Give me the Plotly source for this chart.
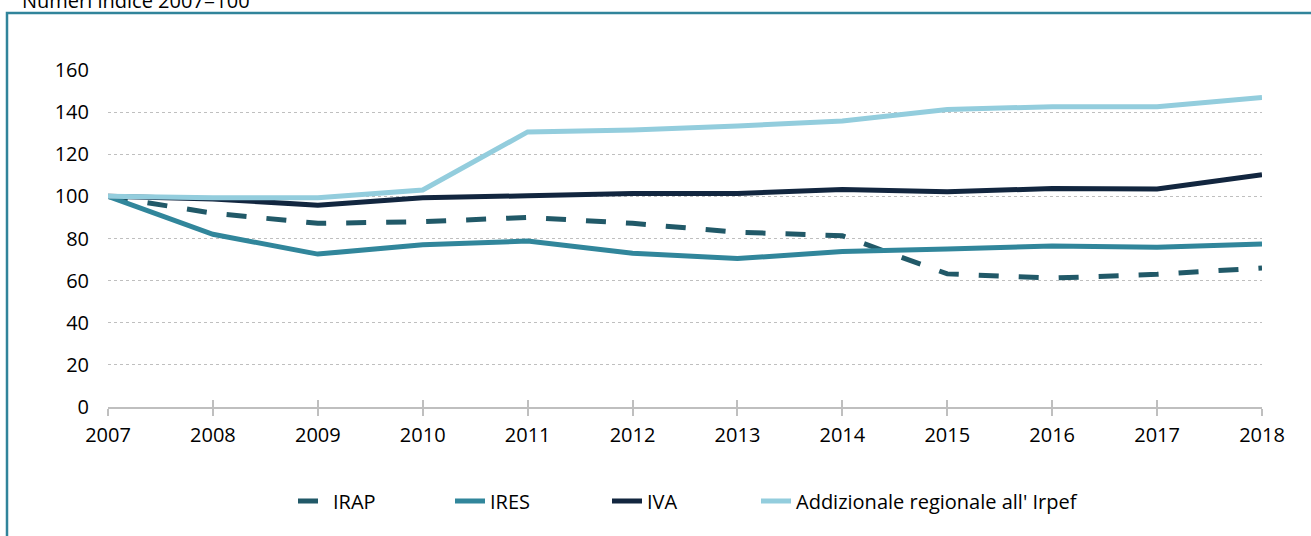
import plotly.graph_objects as go

years = [2007, 2008, 2009, 2010, 2011, 2012, 2013, 2014, 2015, 2016, 2017, 2018]
irap = [100, 92, 87.2, 88, 90, 87.2, 83, 81.3, 63.2, 61.2, 63, 66]
ires = [100, 82, 72.6, 77, 78.8, 73, 70.5, 73.8, 75, 76.4, 75.8, 77.4]
iva = [100, 98.8, 95.8, 99.3, 100.3, 101.4, 101.4, 103.3, 102.2, 103.7, 103.5, 110.3]
addiz = [100, 99.3, 99.4, 103, 130.6, 131.5, 133.4, 135.8, 141.2, 142.6, 142.5, 146.9]
yticks = [0, 20, 40, 60, 80, 100, 120, 140, 160]

FONT = "Open Sans"
FS = 20
W, H = 1311, 536
ml, mr, mt, mb = 108, 49, 70, 129
pw, ph = W - ml - mr, H - mt - mb

def px_x(p):
    return (p - ml) / pw

def px_y(p):
    return (H - mb - p) / ph

fig = go.Figure()
fig.add_trace(go.Scatter(x=years, y=irap, name="IRAP", mode="lines",
                         line=dict(color="#215968", width=5, dash="20px,20px")))
fig.add_trace(go.Scatter(x=years, y=ires, name="IRES", mode="lines",
                         line=dict(color="#31869B", width=5)))
fig.add_trace(go.Scatter(x=years, y=iva, name="IVA", mode="lines",
                         line=dict(color="#12263F", width=5)))
fig.add_trace(go.Scatter(x=years, y=addiz, name="Addizionale regionale all' Irpef", mode="lines",
                         legend="legend2", line=dict(color="#93CDDD", width=5)))
# invisible trace on second x axis for inside ticks
fig.add_trace(go.Scatter(x=years, y=[None]*len(years), xaxis="x2", showlegend=False,
                         hoverinfo="skip"))

fig.update_layout(
    width=W, height=H,
    margin=dict(l=ml, r=mr, t=mt, b=mb),
    paper_bgcolor="white", plot_bgcolor="white",
    font=dict(family=FONT, size=FS, color="#000000"),
    xaxis=dict(range=[2007, 2018], tickmode="array", tickvals=years,
               ticktext=[str(y) for y in years],
               showgrid=False, zeroline=False, showline=True, linecolor="#BFBFBF", linewidth=1.5,
               ticks="outside", ticklen=7, tickcolor="#BFBFBF", tickwidth=1.5,
               ticklabelstandoff=2),
    xaxis2=dict(range=[2007, 2018], overlaying="x", anchor="y", tickmode="array", tickvals=years,
                showticklabels=False, showgrid=False, zeroline=False, showline=False,
                ticks="inside", ticklen=7, tickcolor="#BFBFBF", tickwidth=1.5, side="bottom"),
    yaxis=dict(range=[0, 160], tickmode="array", tickvals=yticks,
               showgrid=True, gridcolor="#BFBFBF", griddash="dot", gridwidth=1,
               zeroline=False, showline=False, ticks="", ticklabelstandoff=18),
    legend=dict(orientation="h", x=px_x(293), xanchor="left", y=px_y(501), yanchor="middle",
                font=dict(family=FONT, size=FS), entrywidth=112, entrywidthmode="pixels",
                bgcolor="rgba(0,0,0,0)"),
    legend2=dict(orientation="h", x=px_x(756), xanchor="left", y=px_y(501), yanchor="middle",
                 font=dict(family=FONT, size=FS), bgcolor="rgba(0,0,0,0)"),
    showlegend=True,
)

fig.add_shape(type="rect", xref="paper", yref="paper",
              x0=px_x(7), x1=px_x(1318), y0=px_y(545), y1=px_y(13),
              line=dict(color="#31849B", width=2.5), fillcolor="rgba(0,0,0,0)", layer="below")

fig.add_annotation(text="Numeri indice 2007=100", xref="paper", yref="paper",
                   x=px_x(20), y=px_y(1), xanchor="left", yanchor="middle",
                   showarrow=False, font=dict(family=FONT, size=FS, color="#000000"))

fig.write_html("out.html", config={"displayModeBar": False},
               post_script="document.body.style.margin='0';document.body.style.padding='0';")
